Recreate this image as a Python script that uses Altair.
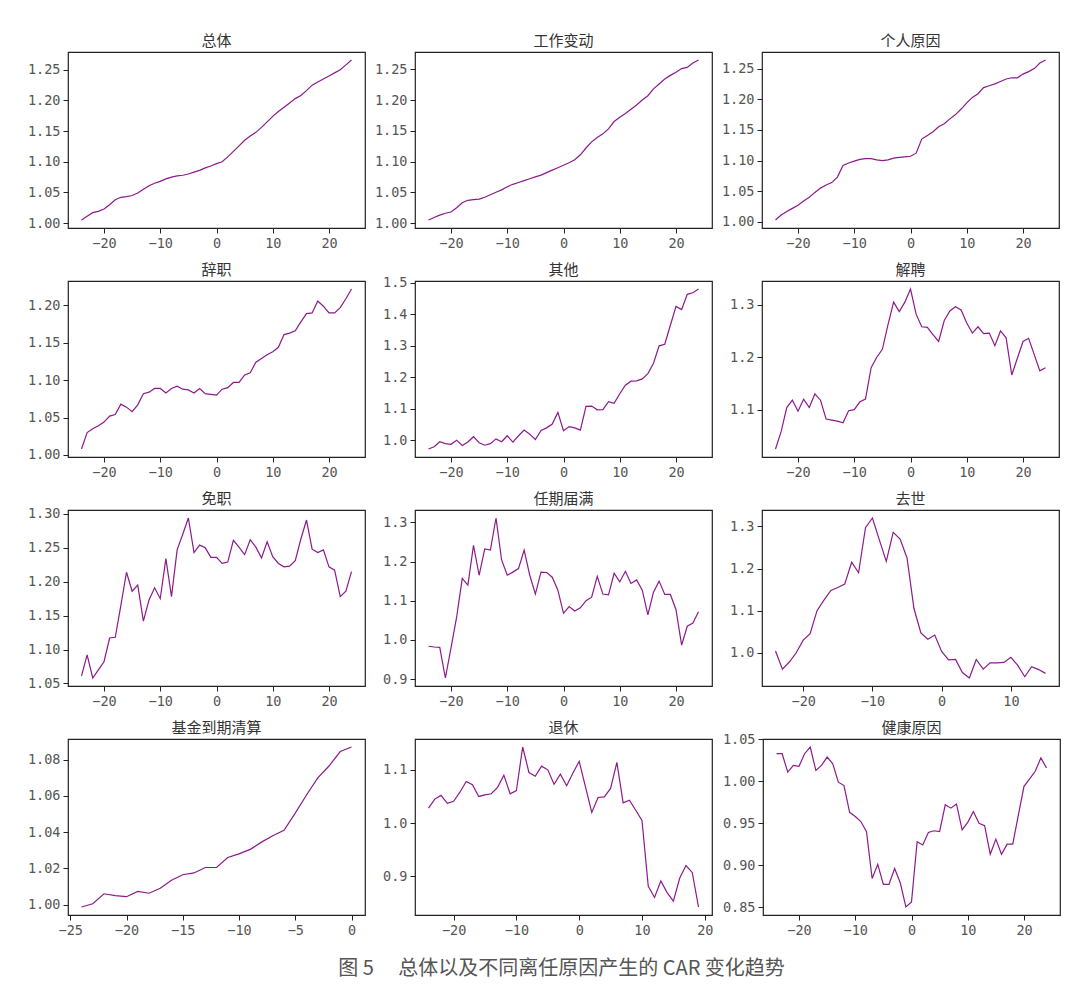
import altair as alt
import pandas as pd

# ---------------- data ----------------
x_full = list(range(-24, 25))

overall = [1.005, 1.011, 1.017, 1.019, 1.023, 1.030, 1.038, 1.042, 1.043, 1.045,
           1.049, 1.055, 1.061, 1.065, 1.068, 1.072, 1.075, 1.077, 1.078, 1.080,
           1.083, 1.086, 1.090, 1.093, 1.097, 1.100, 1.108, 1.117, 1.126, 1.135,
           1.142, 1.148, 1.156, 1.165, 1.174, 1.182, 1.189, 1.196, 1.203, 1.208,
           1.216, 1.225, 1.230, 1.235, 1.240, 1.245, 1.250, 1.258, 1.266]

job_change = [1.005, 1.009, 1.013, 1.016, 1.018, 1.025, 1.033, 1.037, 1.038, 1.039,
              1.042, 1.046, 1.050, 1.054, 1.059, 1.063, 1.066, 1.069, 1.072, 1.075,
              1.078, 1.082, 1.086, 1.090, 1.094, 1.098, 1.103, 1.111, 1.122, 1.132,
              1.139, 1.145, 1.153, 1.165, 1.172, 1.178, 1.185, 1.192, 1.200, 1.207,
              1.218, 1.226, 1.234, 1.240, 1.245, 1.251, 1.253, 1.260, 1.265]

personal = [1.003, 1.011, 1.017, 1.022, 1.027, 1.034, 1.040, 1.048, 1.055, 1.060,
            1.064, 1.073, 1.092, 1.096, 1.099, 1.102, 1.103, 1.103, 1.101, 1.100,
            1.101, 1.104, 1.105, 1.106, 1.107, 1.112, 1.135, 1.141, 1.147, 1.155,
            1.160, 1.168, 1.175, 1.184, 1.194, 1.203, 1.209, 1.219, 1.222, 1.225,
            1.229, 1.233, 1.235, 1.235, 1.241, 1.245, 1.250, 1.259, 1.264]

resign = [1.008, 1.030, 1.035, 1.039, 1.044, 1.052, 1.054, 1.068, 1.064, 1.058,
          1.067, 1.082, 1.084, 1.089, 1.089, 1.083, 1.089, 1.092, 1.088, 1.087,
          1.083, 1.089, 1.082, 1.081, 1.080, 1.088, 1.090, 1.097, 1.097, 1.107,
          1.110, 1.124, 1.129, 1.134, 1.138, 1.144, 1.161, 1.163, 1.166, 1.178,
          1.189, 1.190, 1.206, 1.199, 1.190, 1.190, 1.197, 1.209, 1.222]

other = [0.973, 0.980, 0.996, 0.990, 0.988, 1.001, 0.984, 0.995, 1.012, 0.993,
         0.985, 0.990, 1.005, 0.996, 1.015, 0.995, 1.015, 1.033, 1.020, 1.003,
         1.032, 1.040, 1.052, 1.089, 1.031, 1.044, 1.040, 1.033, 1.108, 1.109,
         1.097, 1.098, 1.123, 1.118, 1.148, 1.175, 1.188, 1.189, 1.195, 1.212,
         1.245, 1.300, 1.305, 1.365, 1.425, 1.415, 1.463, 1.468, 1.480]

dismiss = [1.025, 1.058, 1.104, 1.118, 1.097, 1.120, 1.104, 1.130, 1.118, 1.082,
           1.080, 1.078, 1.075, 1.098, 1.100, 1.115, 1.120, 1.180, 1.200, 1.215,
           1.262, 1.305, 1.287, 1.305, 1.330, 1.282, 1.258, 1.257, 1.243, 1.230,
           1.270, 1.288, 1.296, 1.290, 1.265, 1.246, 1.258, 1.245, 1.246, 1.222,
           1.250, 1.237, 1.166, 1.198, 1.230, 1.236, 1.205, 1.174, 1.180]

removal = [1.061, 1.092, 1.058, 1.070, 1.082, 1.117, 1.118, 1.165, 1.214, 1.186,
           1.195, 1.142, 1.173, 1.191, 1.175, 1.234, 1.178, 1.247, 1.270, 1.294,
           1.243, 1.254, 1.250, 1.236, 1.236, 1.227, 1.229, 1.261, 1.251, 1.240,
           1.262, 1.251, 1.235, 1.259, 1.237, 1.227, 1.222, 1.223, 1.231, 1.263,
           1.291, 1.248, 1.243, 1.247, 1.222, 1.217, 1.178, 1.186, 1.215]

term_end = [0.984, 0.982, 0.981, 0.903, 0.980, 1.058, 1.157, 1.140, 1.241, 1.165,
            1.232, 1.229, 1.311, 1.204, 1.165, 1.173, 1.182, 1.229, 1.165, 1.117,
            1.173, 1.172, 1.160, 1.127, 1.068, 1.085, 1.074, 1.082, 1.100, 1.109,
            1.162, 1.117, 1.115, 1.170, 1.148, 1.175, 1.144, 1.153, 1.127, 1.064,
            1.122, 1.150, 1.116, 1.116, 1.077, 0.987, 1.035, 1.043, 1.072]

x_death = list(range(-24, 16))
death = [1.004, 0.961, 0.978, 1.000, 1.030, 1.045, 1.100, 1.125, 1.148, 1.155,
         1.163, 1.215, 1.190, 1.297, 1.320, 1.268, 1.217, 1.286, 1.270, 1.225,
         1.105, 1.047, 1.032, 1.042, 1.003, 0.983, 0.984, 0.953, 0.940, 0.984,
         0.961, 0.976, 0.976, 0.977, 0.989, 0.970, 0.943, 0.967, 0.960, 0.951]

x_fund = list(range(-24, 1))
fund = [0.9987, 1.0005, 1.0060, 1.0050, 1.0044, 1.0073, 1.0063, 1.0090, 1.0135,
        1.0165, 1.0175, 1.0205, 1.0205, 1.0260, 1.0280, 1.0305, 1.0345, 1.0380,
        1.0410, 1.0505, 1.0605, 1.0700, 1.0765, 1.0845, 1.0870]

x_retire = list(range(-24, 20))
retire = [1.028, 1.045, 1.052, 1.037, 1.041, 1.058, 1.078, 1.072, 1.050, 1.053,
          1.055, 1.067, 1.090, 1.055, 1.061, 1.143, 1.095, 1.088, 1.107, 1.100,
          1.073, 1.092, 1.070, 1.094, 1.116, 1.068, 1.020, 1.048, 1.049, 1.065,
          1.114, 1.038, 1.043, 1.024, 1.005, 0.881, 0.860, 0.891, 0.869, 0.853,
          0.896, 0.920, 0.907, 0.842]

health = [1.033, 1.033, 1.011, 1.019, 1.018, 1.033, 1.041, 1.013, 1.019, 1.029,
          1.021, 0.999, 0.995, 0.963, 0.958, 0.952, 0.940, 0.884, 0.901, 0.877,
          0.877, 0.896, 0.879, 0.850, 0.856, 0.928, 0.924, 0.939, 0.941, 0.940,
          0.972, 0.968, 0.973, 0.942, 0.951, 0.964, 0.950, 0.947, 0.913, 0.931,
          0.913, 0.925, 0.925, 0.960, 0.994, 1.003, 1.012, 1.028, 1.016]

panels = [
    ("总体", x_full, overall, ".2f", [1.00, 1.05, 1.10, 1.15, 1.20, 1.25], [-20, -10, 0, 10, 20]),
    ("工作变动", x_full, job_change, ".2f", [1.00, 1.05, 1.10, 1.15, 1.20, 1.25], [-20, -10, 0, 10, 20]),
    ("个人原因", x_full, personal, ".2f", [1.00, 1.05, 1.10, 1.15, 1.20, 1.25], [-20, -10, 0, 10, 20]),
    ("辞职", x_full, resign, ".2f", [1.00, 1.05, 1.10, 1.15, 1.20], [-20, -10, 0, 10, 20]),
    ("其他", x_full, other, ".1f", [1.0, 1.1, 1.2, 1.3, 1.4, 1.5], [-20, -10, 0, 10, 20]),
    ("解聘", x_full, dismiss, ".1f", [1.1, 1.2, 1.3], [-20, -10, 0, 10, 20]),
    ("免职", x_full, removal, ".2f", [1.05, 1.10, 1.15, 1.20, 1.25, 1.30], [-20, -10, 0, 10, 20]),
    ("任期届满", x_full, term_end, ".1f", [0.9, 1.0, 1.1, 1.2, 1.3], [-20, -10, 0, 10, 20]),
    ("去世", x_death, death, ".1f", [1.0, 1.1, 1.2, 1.3], [-20, -10, 0, 10]),
    ("基金到期清算", x_fund, fund, ".2f", [1.00, 1.02, 1.04, 1.06, 1.08], [-25, -20, -15, -10, -5, 0]),
    ("退休", x_retire, retire, ".1f", [0.9, 1.0, 1.1], [-20, -10, 0, 10, 20]),
    ("健康原因", x_full, health, ".2f", [0.85, 0.90, 0.95, 1.00, 1.05], [-20, -10, 0, 10, 20]),
]

LINE = "#8c1a8c"
LABEL_FONT = "DejaVu Sans Mono"
W, H = 297, 176


def pad(lo, hi):
    d = (hi - lo) * 0.05
    return [lo - d, hi + d]


charts = []
for title, xs, ys, fmt, yticks, xticks in panels:
    df = pd.DataFrame({"t": xs, "car": ys})
    line = alt.Chart(df).mark_line(color=LINE, strokeWidth=1.2).encode(
        x=alt.X("t:Q", scale=alt.Scale(domain=pad(min(xs), max(xs)), nice=False, zero=False),
                axis=alt.Axis(values=xticks, title=None, grid=False, format="d")),
        y=alt.Y("car:Q", scale=alt.Scale(domain=pad(min(ys), max(ys)), nice=False, zero=False),
                axis=alt.Axis(values=yticks, title=None, grid=False, format=fmt,
                              minExtent=45, maxExtent=45)),
    )
    ttl = alt.Chart(pd.DataFrame({"name": [title]})).mark_text(
        fontSize=15, font="Noto Sans CJK SC", color="#333333", baseline="middle", align="center"
    ).encode(
        text="name:N", x=alt.value(W / 2), y=alt.value(-11)
    )
    c = alt.layer(line, ttl).properties(width=W, height=H)
    charts.append(c)

rows = [alt.hconcat(*charts[i:i + 3], spacing=3) for i in range(0, 12, 3)]
chart = alt.vconcat(*rows, spacing=11).properties(
    title=alt.TitleParams("图 5　 总体以及不同离任原因产生的 CAR 变化趋势", orient="bottom",
                          anchor="middle", fontSize=20, font="Noto Sans CJK SC",
                          color="#555555", fontWeight="normal", offset=22, dx=20),
    padding={"top": 25, "left": 14, "right": 5, "bottom": 10},
).configure_view(
    stroke="#222222", strokeWidth=1.2
).configure_axis(
    domain=False, tickColor="#222222", tickSize=5, tickWidth=1,
    labelFont=LABEL_FONT, labelFontSize=13.5, labelColor="#555555", labelPadding=3,
).configure_concat(spacing=4)

chart.save("out.html", embed_options={"renderer": "svg", "actions": False})
